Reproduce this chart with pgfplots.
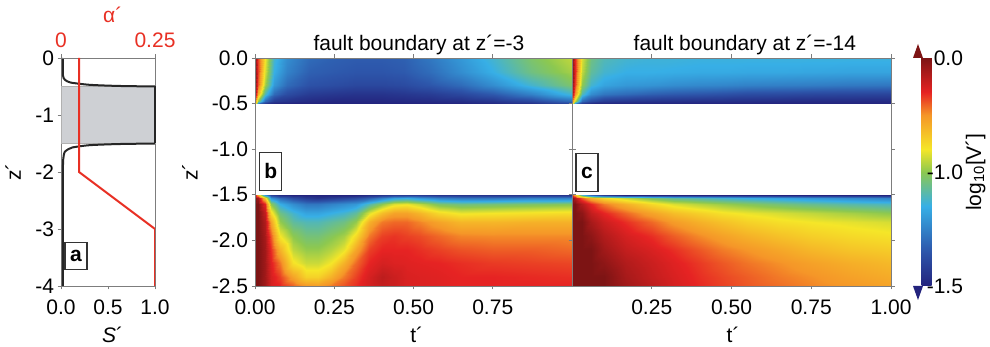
\documentclass[border=0pt]{standalone}
\usepackage{fontspec}
\setmainfont{Liberation Sans}
\usepackage{pgfplots}
\pgfplotsset{compat=1.18}
\definecolor{axgray}{RGB}{125,125,125}
\definecolor{alphared}{RGB}{232,48,36}
\definecolor{boxgray}{RGB}{206,208,212}
\definecolor{cbtop}{RGB}{125,20,20}
\definecolor{cbbot}{RGB}{35,35,125}
\pgfplotsset{
  colormap={vjet}{rgb255(0cm)=(35,35,125); rgb255(3cm)=(45,85,170); rgb255(7cm)=(55,175,230); rgb255(10cm)=(140,200,80); rgb255(12cm)=(245,230,40); rgb255(15cm)=(245,150,40); rgb255(17cm)=(230,35,35); rgb255(20cm)=(125,20,20)},
  every axis title shift=0pt,
  myax/.style={scale only axis, anchor=south west, height=228pt, enlargelimits=false,
    axis line style={axgray, line width=0.8pt}, tick style={axgray, line width=0.7pt},
    tick align=outside, major tick length=3.5pt,
    tick label style={font=\fontsize{21}{25}\selectfont},
    label style={font=\fontsize{21}{25}\selectfont},
    title style={font=\fontsize{21}{25}\selectfont},
    /pgf/number format/assume math mode=true},
}
\tikzset{lbox/.style={draw=black!80, line width=1.1pt, fill=white, font=\fontsize{21}{25}\selectfont\bfseries, inner sep=0pt, minimum width=22pt}}
\begin{document}
\begin{tikzpicture}
\path[use as bounding box] (0,0) rectangle (990pt,347pt);
% ---------- panel a ----------
\begin{axis}[myax, at={(61pt,61pt)}, width=94pt,
  xmin=0, xmax=1, ymin=-4, ymax=0,
  xtick={0,0.5,1}, ytick={0,-1,-2,-3,-4}, tick pos=left,
  xticklabel style={yshift=-7pt, /pgf/number format/.cd, fixed, fixed zerofill, precision=1},
  xlabel={\textit{S}´}, xlabel style={at={(axis description cs:0.55,-0.215)}, anchor=center},
  ylabel={z´}, ylabel style={at={(axis description cs:-0.51,0.5)}, anchor=center},
  clip=false]
\addplot[fill=boxgray, draw=axgray!60, line width=0.4pt] coordinates {(0,-0.5) (1,-0.5) (1,-1.5) (0,-1.5) (0,-0.5)};
\addplot[black!85, line width=2pt, smooth, tension=0.4] coordinates {
(0.02,0) (0.02,-0.3) (0.04,-0.38) (0.1,-0.43) (0.3,-0.47) (0.6,-0.49) (1,-0.5)};
\addplot[black!85, line width=2pt] coordinates {(1,-0.5) (1,-1.5)};
\addplot[black!85, line width=2pt, smooth, tension=0.4] coordinates {
(1,-1.5) (0.6,-1.51) (0.3,-1.53) (0.12,-1.57) (0.05,-1.63) (0.03,-1.7) (0.02,-2) (0.02,-4)};
\node[lbox, minimum height=27pt] at (axis cs:0.16,-3.47) {a};
\end{axis}
\begin{axis}[myax, at={(61pt,61pt)}, width=94pt,
  xmin=0, xmax=0.25, ymin=-4, ymax=0,
  axis x line*=top, axis y line=none,
  xtick={0,0.25}, xticklabels={0,0.25},
  xticklabel style={alphared, yshift=3pt},
  xlabel={α´}, xlabel style={alphared, at={(axis description cs:0.55,1.19)}, anchor=center}]
\addplot[alphared, line width=2pt] coordinates {(0.048,0) (0.048,-2) (0.25,-3) (0.25,-4)};
\end{axis}
% ---------- panel b ----------
\begin{axis}[myax, at={(255pt,61pt)}, width=317pt,
  xmin=0, xmax=1, ymin=-2.5, ymax=0,
  xtick={0,0.25,0.5,0.75}, ytick={0,-0.5,-1,-1.5,-2,-2.5},
  xticklabel style={yshift=-7pt, /pgf/number format/.cd, fixed, fixed zerofill, precision=2},
  yticklabel style={/pgf/number format/.cd, fixed, fixed zerofill, precision=1},
  xlabel={t´}, xlabel style={at={(axis description cs:0.51,-0.215)}, anchor=center},
  ylabel={z´}, ylabel style={at={(axis description cs:-0.205,0.5)}, anchor=center},
  title={fault boundary at z´=-3}, title style={at={(axis description cs:0.517,1.031)}, anchor=base},
  colormap name=vjet, point meta min=-2, point meta max=0, axis on top]
\addplot[surf, shader=interp, mesh/cols=15, point meta=explicit] table[x=t, y=z, meta=c, row sep=\\] {
t z c\\
0 0 0\\ 0.01 0 -0.35\\ 0.03 0 -0.8\\ 0.06 0 -1.25\\ 0.1 0 -1.45\\ 0.17 0 -1.6\\ 0.25 0 -1.65\\ 0.32 0 -1.67\\ 0.4 0 -1.67\\ 0.47 0 -1.65\\ 0.55 0 -1.55\\ 0.65 0 -1.4\\ 0.75 0 -1.25\\ 0.87 0 -1.05\\ 1 0 -0.9\\
0 -0.15 0\\ 0.01 -0.15 -0.35\\ 0.03 -0.15 -0.85\\ 0.06 -0.15 -1.3\\ 0.1 -0.15 -1.5\\ 0.17 -0.15 -1.65\\ 0.25 -0.15 -1.68\\ 0.32 -0.15 -1.7\\ 0.4 -0.15 -1.7\\ 0.47 -0.15 -1.68\\ 0.55 -0.15 -1.6\\ 0.65 -0.15 -1.45\\ 0.75 -0.15 -1.3\\ 0.87 -0.15 -1.1\\ 1 -0.15 -0.95\\
0 -0.3 0\\ 0.01 -0.3 -0.4\\ 0.03 -0.3 -0.95\\ 0.06 -0.3 -1.4\\ 0.1 -0.3 -1.6\\ 0.17 -0.3 -1.72\\ 0.25 -0.3 -1.75\\ 0.32 -0.3 -1.78\\ 0.4 -0.3 -1.78\\ 0.47 -0.3 -1.76\\ 0.55 -0.3 -1.7\\ 0.65 -0.3 -1.6\\ 0.75 -0.3 -1.45\\ 0.87 -0.3 -1.25\\ 1 -0.3 -1.05\\
0 -0.4 -0.1\\ 0.01 -0.4 -0.6\\ 0.03 -0.4 -1.2\\ 0.06 -0.4 -1.6\\ 0.1 -0.4 -1.75\\ 0.17 -0.4 -1.85\\ 0.25 -0.4 -1.88\\ 0.32 -0.4 -1.9\\ 0.4 -0.4 -1.9\\ 0.47 -0.4 -1.88\\ 0.55 -0.4 -1.85\\ 0.65 -0.4 -1.78\\ 0.75 -0.4 -1.68\\ 0.87 -0.4 -1.5\\ 1 -0.4 -1.25\\
0 -0.47 -0.4\\ 0.01 -0.47 -1\\ 0.03 -0.47 -1.6\\ 0.06 -0.47 -1.85\\ 0.1 -0.47 -1.9\\ 0.17 -0.47 -1.95\\ 0.25 -0.47 -1.97\\ 0.32 -0.47 -1.97\\ 0.4 -0.47 -1.97\\ 0.47 -0.47 -1.96\\ 0.55 -0.47 -1.95\\ 0.65 -0.47 -1.93\\ 0.75 -0.47 -1.88\\ 0.87 -0.47 -1.78\\ 1 -0.47 -1.6\\
0 -0.5 -0.6\\ 0.01 -0.5 -1.6\\ 0.03 -0.5 -1.9\\ 0.06 -0.5 -2\\ 0.1 -0.5 -2\\ 0.17 -0.5 -2\\ 0.25 -0.5 -2\\ 0.32 -0.5 -2\\ 0.4 -0.5 -2\\ 0.47 -0.5 -2\\ 0.55 -0.5 -2\\ 0.65 -0.5 -2\\ 0.75 -0.5 -1.98\\ 0.87 -0.5 -1.95\\ 1 -0.5 -1.85\\
};
\addplot[surf, shader=interp, mesh/cols=21, point meta=explicit] table[x=t, y=z, meta=c, row sep=\\] {
t z c\\
0 -1.5 -0.2\\ 0.01 -1.5 -0.6\\ 0.03 -1.5 -1.4\\ 0.05 -1.5 -1.8\\ 0.08 -1.5 -1.95\\ 0.12 -1.5 -2\\ 0.16 -1.5 -2\\ 0.2 -1.5 -2\\ 0.24 -1.5 -2\\ 0.28 -1.5 -2\\ 0.32 -1.5 -2\\ 0.36 -1.5 -1.95\\ 0.4 -1.5 -1.9\\ 0.44 -1.5 -1.85\\ 0.48 -1.5 -1.85\\ 0.52 -1.5 -1.85\\ 0.58 -1.5 -1.9\\ 0.65 -1.5 -1.9\\ 0.75 -1.5 -1.9\\ 0.87 -1.5 -1.9\\ 1 -1.5 -1.9\\
0 -1.53 0\\ 0.01 -1.53 -0.1\\ 0.03 -1.53 -0.7\\ 0.05 -1.53 -1.4\\ 0.08 -1.53 -1.6\\ 0.12 -1.53 -1.75\\ 0.16 -1.53 -1.85\\ 0.2 -1.53 -1.9\\ 0.24 -1.53 -1.85\\ 0.28 -1.53 -1.8\\ 0.32 -1.53 -1.75\\ 0.36 -1.53 -1.65\\ 0.4 -1.53 -1.5\\ 0.44 -1.53 -1.35\\ 0.48 -1.53 -1.3\\ 0.52 -1.53 -1.4\\ 0.58 -1.53 -1.5\\ 0.65 -1.53 -1.55\\ 0.75 -1.53 -1.55\\ 0.87 -1.53 -1.5\\ 1 -1.53 -1.5\\
0 -1.6 0\\ 0.01 -1.6 0\\ 0.03 -1.6 -0.3\\ 0.05 -1.6 -1\\ 0.08 -1.6 -1.3\\ 0.12 -1.6 -1.45\\ 0.16 -1.6 -1.55\\ 0.2 -1.6 -1.55\\ 0.24 -1.6 -1.5\\ 0.28 -1.6 -1.45\\ 0.32 -1.6 -1.4\\ 0.36 -1.6 -1.2\\ 0.4 -1.6 -1\\ 0.44 -1.6 -0.85\\ 0.48 -1.6 -0.82\\ 0.52 -1.6 -0.9\\ 0.58 -1.6 -1.05\\ 0.65 -1.6 -1.1\\ 0.75 -1.6 -1.08\\ 0.87 -1.6 -1.05\\ 1 -1.6 -1.02\\
0 -1.7 0\\ 0.01 -1.7 0\\ 0.03 -1.7 -0.2\\ 0.05 -1.7 -0.75\\ 0.08 -1.7 -1.1\\ 0.12 -1.7 -1.25\\ 0.16 -1.7 -1.35\\ 0.2 -1.7 -1.35\\ 0.24 -1.7 -1.3\\ 0.28 -1.7 -1.25\\ 0.32 -1.7 -1.15\\ 0.36 -1.7 -0.85\\ 0.4 -1.7 -0.65\\ 0.44 -1.7 -0.55\\ 0.48 -1.7 -0.55\\ 0.52 -1.7 -0.62\\ 0.58 -1.7 -0.75\\ 0.65 -1.7 -0.82\\ 0.75 -1.7 -0.8\\ 0.87 -1.7 -0.78\\ 1 -1.7 -0.76\\
0 -1.8 0\\ 0.01 -1.8 0\\ 0.03 -1.8 -0.15\\ 0.05 -1.8 -0.55\\ 0.08 -1.8 -0.98\\ 0.12 -1.8 -1.15\\ 0.16 -1.8 -1.2\\ 0.2 -1.8 -1.2\\ 0.24 -1.8 -1.15\\ 0.28 -1.8 -1.1\\ 0.32 -1.8 -0.98\\ 0.36 -1.8 -0.6\\ 0.4 -1.8 -0.45\\ 0.44 -1.8 -0.42\\ 0.48 -1.8 -0.42\\ 0.52 -1.8 -0.47\\ 0.58 -1.8 -0.55\\ 0.65 -1.8 -0.62\\ 0.75 -1.8 -0.62\\ 0.87 -1.8 -0.6\\ 1 -1.8 -0.6\\
0 -1.95 0\\ 0.01 -1.95 0\\ 0.03 -1.95 -0.12\\ 0.05 -1.95 -0.4\\ 0.08 -1.95 -0.8\\ 0.12 -1.95 -1\\ 0.16 -1.95 -1.08\\ 0.2 -1.95 -1.08\\ 0.24 -1.95 -1.02\\ 0.28 -1.95 -0.95\\ 0.32 -1.95 -0.75\\ 0.36 -1.95 -0.45\\ 0.4 -1.95 -0.35\\ 0.44 -1.95 -0.33\\ 0.48 -1.95 -0.35\\ 0.52 -1.95 -0.37\\ 0.58 -1.95 -0.42\\ 0.65 -1.95 -0.47\\ 0.75 -1.95 -0.48\\ 0.87 -1.95 -0.48\\ 1 -1.95 -0.48\\
0 -2.1 0\\ 0.01 -2.1 0\\ 0.03 -2.1 -0.1\\ 0.05 -2.1 -0.32\\ 0.08 -2.1 -0.6\\ 0.12 -2.1 -0.9\\ 0.16 -2.1 -0.98\\ 0.2 -2.1 -0.98\\ 0.24 -2.1 -0.92\\ 0.28 -2.1 -0.82\\ 0.32 -2.1 -0.55\\ 0.36 -2.1 -0.35\\ 0.4 -2.1 -0.3\\ 0.44 -2.1 -0.3\\ 0.48 -2.1 -0.3\\ 0.52 -2.1 -0.32\\ 0.58 -2.1 -0.35\\ 0.65 -2.1 -0.38\\ 0.75 -2.1 -0.4\\ 0.87 -2.1 -0.4\\ 1 -2.1 -0.42\\
0 -2.25 0\\ 0.01 -2.25 0\\ 0.03 -2.25 -0.1\\ 0.05 -2.25 -0.28\\ 0.08 -2.25 -0.45\\ 0.12 -2.25 -0.78\\ 0.16 -2.25 -0.88\\ 0.2 -2.25 -0.88\\ 0.24 -2.25 -0.8\\ 0.28 -2.25 -0.6\\ 0.32 -2.25 -0.42\\ 0.36 -2.25 -0.3\\ 0.4 -2.25 -0.25\\ 0.44 -2.25 -0.27\\ 0.48 -2.25 -0.28\\ 0.52 -2.25 -0.29\\ 0.58 -2.25 -0.3\\ 0.65 -2.25 -0.32\\ 0.75 -2.25 -0.34\\ 0.87 -2.25 -0.35\\ 1 -2.25 -0.36\\
0 -2.4 0\\ 0.01 -2.4 0\\ 0.03 -2.4 -0.1\\ 0.05 -2.4 -0.25\\ 0.08 -2.4 -0.35\\ 0.12 -2.4 -0.55\\ 0.16 -2.4 -0.72\\ 0.2 -2.4 -0.72\\ 0.24 -2.4 -0.6\\ 0.28 -2.4 -0.45\\ 0.32 -2.4 -0.35\\ 0.36 -2.4 -0.25\\ 0.4 -2.4 -0.18\\ 0.44 -2.4 -0.22\\ 0.48 -2.4 -0.26\\ 0.52 -2.4 -0.27\\ 0.58 -2.4 -0.28\\ 0.65 -2.4 -0.3\\ 0.75 -2.4 -0.3\\ 0.87 -2.4 -0.31\\ 1 -2.4 -0.32\\
0 -2.5 0\\ 0.01 -2.5 0\\ 0.03 -2.5 -0.1\\ 0.05 -2.5 -0.25\\ 0.08 -2.5 -0.3\\ 0.12 -2.5 -0.4\\ 0.16 -2.5 -0.5\\ 0.2 -2.5 -0.52\\ 0.24 -2.5 -0.45\\ 0.28 -2.5 -0.38\\ 0.32 -2.5 -0.32\\ 0.36 -2.5 -0.25\\ 0.4 -2.5 -0.2\\ 0.44 -2.5 -0.22\\ 0.48 -2.5 -0.26\\ 0.52 -2.5 -0.27\\ 0.58 -2.5 -0.28\\ 0.65 -2.5 -0.3\\ 0.75 -2.5 -0.3\\ 0.87 -2.5 -0.3\\ 1 -2.5 -0.3\\
};
\node[lbox, minimum height=38pt] at (axis cs:0.05,-1.24) {b};
\end{axis}
% ---------- panel c ----------
\begin{axis}[myax, at={(572pt,61pt)}, width=319pt,
  xmin=0, xmax=1, ymin=-2.5, ymax=0,
  xtick={0.25,0.5,0.75,1}, ytick={0,-0.5,-1,-1.5,-2,-2.5}, yticklabels={},
  xticklabel style={yshift=-7pt, /pgf/number format/.cd, fixed, fixed zerofill, precision=2},
  xlabel={t´}, xlabel style={at={(axis description cs:0.505,-0.215)}, anchor=center},
  title={fault boundary at z´=-14}, title style={at={(axis description cs:0.542,1.031)}, anchor=base},
  colormap name=vjet, point meta min=-2, point meta max=0, axis on top,
  colorbar,
  colorbar style={at={(parent axis.south east)}, anchor=south west, xshift=22pt,
    scale only axis, width=10pt, height=228pt,
    ytick={-2,-1,0}, yticklabels={-1.5,-1.0,0.0},
    axis line style={draw=none}, major tick length=0pt,
    yticklabel style={font=\fontsize{21}{25}\selectfont, anchor=east, xshift=35pt},
    ylabel={log\textsubscript{10}[V´]},
    ylabel style={font=\fontsize{21}{25}\selectfont, at={(axis description cs:5.4,0.5)}, anchor=center, rotate=0}}]
\addplot[surf, shader=interp, mesh/cols=15, point meta=explicit] table[x=t, y=z, meta=c, row sep=\\] {
t z c\\
0 0 0\\ 0.01 0 -0.3\\ 0.03 0 -0.85\\ 0.06 0 -1.1\\ 0.1 0 -1.2\\ 0.17 0 -1.25\\ 0.25 0 -1.27\\ 0.32 0 -1.27\\ 0.4 0 -1.28\\ 0.47 0 -1.28\\ 0.55 0 -1.28\\ 0.65 0 -1.28\\ 0.75 0 -1.28\\ 0.87 0 -1.28\\ 1 0 -1.28\\
0 -0.15 0\\ 0.01 -0.15 -0.3\\ 0.03 -0.15 -0.9\\ 0.06 -0.15 -1.15\\ 0.1 -0.15 -1.25\\ 0.17 -0.15 -1.3\\ 0.25 -0.15 -1.3\\ 0.32 -0.15 -1.31\\ 0.4 -0.15 -1.32\\ 0.47 -0.15 -1.32\\ 0.55 -0.15 -1.33\\ 0.65 -0.15 -1.33\\ 0.75 -0.15 -1.34\\ 0.87 -0.15 -1.35\\ 1 -0.15 -1.35\\
0 -0.3 0\\ 0.01 -0.3 -0.35\\ 0.03 -0.3 -1\\ 0.06 -0.3 -1.25\\ 0.1 -0.3 -1.35\\ 0.17 -0.3 -1.4\\ 0.25 -0.3 -1.42\\ 0.32 -0.3 -1.45\\ 0.4 -0.3 -1.47\\ 0.47 -0.3 -1.48\\ 0.55 -0.3 -1.5\\ 0.65 -0.3 -1.51\\ 0.75 -0.3 -1.52\\ 0.87 -0.3 -1.54\\ 1 -0.3 -1.55\\
0 -0.4 -0.1\\ 0.01 -0.4 -0.5\\ 0.03 -0.4 -1.2\\ 0.06 -0.4 -1.45\\ 0.1 -0.4 -1.55\\ 0.17 -0.4 -1.6\\ 0.25 -0.4 -1.65\\ 0.32 -0.4 -1.68\\ 0.4 -0.4 -1.7\\ 0.47 -0.4 -1.72\\ 0.55 -0.4 -1.75\\ 0.65 -0.4 -1.76\\ 0.75 -0.4 -1.78\\ 0.87 -0.4 -1.79\\ 1 -0.4 -1.8\\
0 -0.47 -0.4\\ 0.01 -0.47 -0.9\\ 0.03 -0.47 -1.6\\ 0.06 -0.47 -1.75\\ 0.1 -0.47 -1.85\\ 0.17 -0.47 -1.88\\ 0.25 -0.47 -1.9\\ 0.32 -0.47 -1.91\\ 0.4 -0.47 -1.92\\ 0.47 -0.47 -1.92\\ 0.55 -0.47 -1.93\\ 0.65 -0.47 -1.94\\ 0.75 -0.47 -1.95\\ 0.87 -0.47 -1.95\\ 1 -0.47 -1.95\\
0 -0.5 -0.8\\ 0.01 -0.5 -1.5\\ 0.03 -0.5 -1.9\\ 0.06 -0.5 -2\\ 0.1 -0.5 -2\\ 0.17 -0.5 -2\\ 0.25 -0.5 -2\\ 0.32 -0.5 -2\\ 0.4 -0.5 -2\\ 0.47 -0.5 -2\\ 0.55 -0.5 -2\\ 0.65 -0.5 -2\\ 0.75 -0.5 -2\\ 0.87 -0.5 -2\\ 1 -0.5 -2\\
};
\addplot[surf, shader=interp, mesh/cols=15, point meta=explicit] table[x=t, y=z, meta=c, row sep=\\] {
t z c\\
0 -1.5 -0.3\\ 0.01 -1.5 -0.6\\ 0.03 -1.5 -1.2\\ 0.06 -1.5 -1.6\\ 0.1 -1.5 -1.85\\ 0.17 -1.5 -2\\ 0.25 -1.5 -2\\ 0.32 -1.5 -2\\ 0.4 -1.5 -2\\ 0.47 -1.5 -2\\ 0.55 -1.5 -2\\ 0.65 -1.5 -2\\ 0.75 -1.5 -2\\ 0.87 -1.5 -2\\ 1 -1.5 -2\\
0 -1.53 0\\ 0.01 -1.53 -0.15\\ 0.03 -1.53 -0.4\\ 0.06 -1.53 -0.6\\ 0.1 -1.53 -0.75\\ 0.17 -1.53 -0.9\\ 0.25 -1.53 -1.05\\ 0.32 -1.53 -1.15\\ 0.4 -1.53 -1.2\\ 0.47 -1.53 -1.25\\ 0.55 -1.53 -1.3\\ 0.65 -1.53 -1.35\\ 0.75 -1.53 -1.4\\ 0.87 -1.53 -1.45\\ 1 -1.53 -1.5\\
0 -1.6 0\\ 0.01 -1.6 0\\ 0.03 -1.6 -0.15\\ 0.06 -1.6 -0.3\\ 0.1 -1.6 -0.45\\ 0.17 -1.6 -0.6\\ 0.25 -1.6 -0.75\\ 0.32 -1.6 -0.85\\ 0.4 -1.6 -0.92\\ 0.47 -1.6 -0.97\\ 0.55 -1.6 -1.02\\ 0.65 -1.6 -1.08\\ 0.75 -1.6 -1.13\\ 0.87 -1.6 -1.18\\ 1 -1.6 -1.22\\
0 -1.7 0\\ 0.01 -1.7 0\\ 0.03 -1.7 -0.05\\ 0.06 -1.7 -0.2\\ 0.1 -1.7 -0.3\\ 0.17 -1.7 -0.42\\ 0.25 -1.7 -0.55\\ 0.32 -1.7 -0.65\\ 0.4 -1.7 -0.72\\ 0.47 -1.7 -0.78\\ 0.55 -1.7 -0.82\\ 0.65 -1.7 -0.86\\ 0.75 -1.7 -0.9\\ 0.87 -1.7 -0.95\\ 1 -1.7 -1\\
0 -1.8 0\\ 0.01 -1.8 0\\ 0.03 -1.8 0\\ 0.06 -1.8 -0.12\\ 0.1 -1.8 -0.22\\ 0.17 -1.8 -0.32\\ 0.25 -1.8 -0.42\\ 0.32 -1.8 -0.52\\ 0.4 -1.8 -0.6\\ 0.47 -1.8 -0.66\\ 0.55 -1.8 -0.72\\ 0.65 -1.8 -0.77\\ 0.75 -1.8 -0.8\\ 0.87 -1.8 -0.83\\ 1 -1.8 -0.86\\
0 -1.95 0\\ 0.01 -1.95 0\\ 0.03 -1.95 0\\ 0.06 -1.95 -0.05\\ 0.1 -1.95 -0.15\\ 0.17 -1.95 -0.25\\ 0.25 -1.95 -0.32\\ 0.32 -1.95 -0.4\\ 0.4 -1.95 -0.48\\ 0.47 -1.95 -0.54\\ 0.55 -1.95 -0.6\\ 0.65 -1.95 -0.66\\ 0.75 -1.95 -0.71\\ 0.87 -1.95 -0.75\\ 1 -1.95 -0.78\\
0 -2.1 0\\ 0.01 -2.1 0\\ 0.03 -2.1 0\\ 0.06 -2.1 0\\ 0.1 -2.1 -0.1\\ 0.17 -2.1 -0.2\\ 0.25 -2.1 -0.26\\ 0.32 -2.1 -0.32\\ 0.4 -2.1 -0.39\\ 0.47 -2.1 -0.45\\ 0.55 -2.1 -0.5\\ 0.65 -2.1 -0.56\\ 0.75 -2.1 -0.62\\ 0.87 -2.1 -0.67\\ 1 -2.1 -0.7\\
0 -2.25 0\\ 0.01 -2.25 0\\ 0.03 -2.25 0\\ 0.06 -2.25 0\\ 0.1 -2.25 -0.05\\ 0.17 -2.25 -0.15\\ 0.25 -2.25 -0.22\\ 0.32 -2.25 -0.28\\ 0.4 -2.25 -0.34\\ 0.47 -2.25 -0.39\\ 0.55 -2.25 -0.44\\ 0.65 -2.25 -0.49\\ 0.75 -2.25 -0.54\\ 0.87 -2.25 -0.59\\ 1 -2.25 -0.63\\
0 -2.4 0\\ 0.01 -2.4 0\\ 0.03 -2.4 0\\ 0.06 -2.4 0\\ 0.1 -2.4 0\\ 0.17 -2.4 -0.12\\ 0.25 -2.4 -0.2\\ 0.32 -2.4 -0.26\\ 0.4 -2.4 -0.32\\ 0.47 -2.4 -0.36\\ 0.55 -2.4 -0.4\\ 0.65 -2.4 -0.45\\ 0.75 -2.4 -0.49\\ 0.87 -2.4 -0.54\\ 1 -2.4 -0.58\\
0 -2.5 0\\ 0.01 -2.5 0\\ 0.03 -2.5 0\\ 0.06 -2.5 0\\ 0.1 -2.5 0\\ 0.17 -2.5 -0.1\\ 0.25 -2.5 -0.18\\ 0.32 -2.5 -0.25\\ 0.4 -2.5 -0.31\\ 0.47 -2.5 -0.35\\ 0.55 -2.5 -0.39\\ 0.65 -2.5 -0.43\\ 0.75 -2.5 -0.47\\ 0.87 -2.5 -0.51\\ 1 -2.5 -0.55\\
};
\node[lbox, minimum height=38pt] at (axis cs:0.047,-1.26) {c};
\end{axis}
% colorbar end triangles
\fill[cbtop] (913pt,289pt) -- (923pt,289pt) -- (918pt,303pt) -- cycle;
\fill[cbbot] (913pt,61pt) -- (923pt,61pt) -- (918pt,47pt) -- cycle;
\end{tikzpicture}
\end{document}
